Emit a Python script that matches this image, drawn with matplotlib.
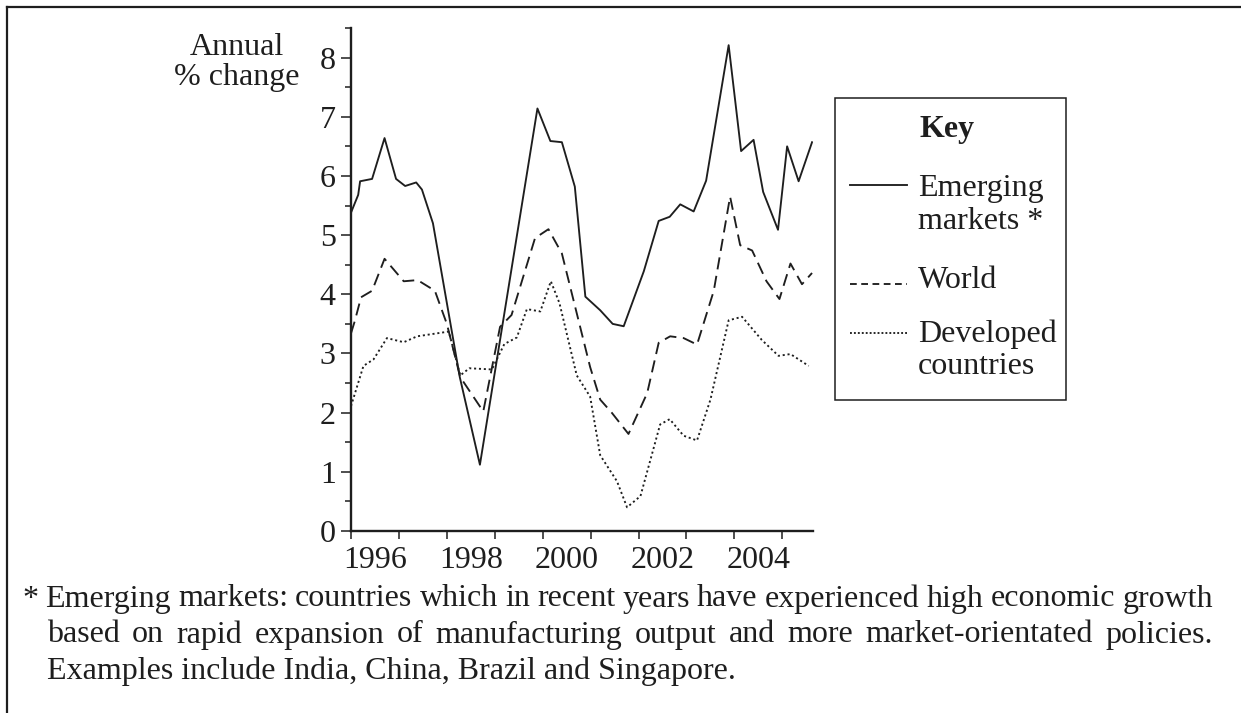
import matplotlib
matplotlib.use("Agg")
import matplotlib.pyplot as plt
from matplotlib.lines import Line2D
from matplotlib.patches import Rectangle

plt.rcParams['font.family'] = ['Liberation Serif', 'DejaVu Serif']

# data (year, annual % change)
em_x = [1996.00, 1996.15, 1996.19, 1996.44, 1996.70, 1996.94, 1997.13, 1997.36, 1997.48,
        1997.71, 1998.27, 1998.69, 1999.89, 2000.16, 2000.40, 2000.67, 2000.89, 2001.20,
        2001.46, 2001.69, 2002.11, 2002.42, 2002.65, 2002.87, 2003.15, 2003.41, 2003.88,
        2004.14, 2004.40, 2004.60, 2004.91, 2005.10, 2005.34, 2005.62]
em_y = [5.38, 5.68, 5.91, 5.95, 6.64, 5.95, 5.83, 5.89, 5.77,
        5.20, 2.60, 1.12, 7.14, 6.59, 6.57, 5.82, 3.96, 3.73,
        3.50, 3.46, 4.39, 5.24, 5.31, 5.52, 5.40, 5.92, 8.21,
        6.42, 6.61, 5.73, 5.09, 6.50, 5.91, 6.57]

wo_x = [1996.00, 1996.08, 1996.21, 1996.44, 1996.70, 1997.10, 1997.39, 1997.75, 1998.00,
        1998.28, 1998.76, 1999.11, 1999.35, 1999.84, 2000.12, 2000.40, 2000.99, 2001.20,
        2001.44, 2001.79, 2002.18, 2002.42, 2002.66, 2002.94, 2003.22, 2003.57, 2003.91,
        2004.12, 2004.37, 2004.67, 2004.94, 2005.17, 2005.41, 2005.62]
wo_y = [3.34, 3.55, 3.95, 4.06, 4.60, 4.22, 4.24, 4.06, 3.50,
        2.60, 2.02, 3.45, 3.65, 4.95, 5.10, 4.69, 2.77, 2.22,
        2.00, 1.64, 2.33, 3.18, 3.29, 3.26, 3.15, 4.06, 5.65,
        4.83, 4.74, 4.22, 3.92, 4.52, 4.17, 4.36]

dv_x = [1996.00, 1996.26, 1996.47, 1996.75, 1997.10, 1997.38, 1998.04, 1998.28, 1998.47,
        1998.94, 1999.20, 1999.46, 1999.67, 1999.95, 2000.17, 2000.35, 2000.71, 2000.99,
        2001.20, 2001.55, 2001.76, 2002.04, 2002.45, 2002.65, 2002.94, 2003.22, 2003.50,
        2003.88, 2004.16, 2004.57, 2004.92, 2005.17, 2005.55]
dv_y = [2.11, 2.79, 2.90, 3.26, 3.19, 3.29, 3.37, 2.63, 2.75,
        2.73, 3.16, 3.27, 3.75, 3.71, 4.22, 3.85, 2.63, 2.27,
        1.28, 0.84, 0.40, 0.59, 1.80, 1.89, 1.61, 1.53, 2.22,
        3.56, 3.62, 3.23, 2.96, 2.99, 2.79]

years = list(range(1996, 2006))
label_years = [1996, 1998, 2000, 2002, 2004]
y_ticks = [0, 1, 2, 3, 4, 5, 6, 7, 8]

footnote = [
    "* Emerging markets: countries which in recent years have experienced high economic growth",
    "based on rapid expansion of manufacturing output and more market-orientated policies.",
    "Examples include India, China, Brazil and Singapore.",
]

W, H = 1241, 713
fig = plt.figure(figsize=(W / 100, H / 100), dpi=100)
FS = 23
INK = '#1e1e1e'

def fx(px):
    return px / W

def fy(py):
    return 1 - py / H

ax = fig.add_axes([fx(351), fy(531), fx(813) - fx(351), fy(28) - fy(531)])
lw = 1.35
ax.plot(em_x, em_y, color=INK, lw=lw, ls='-')
ax.plot(wo_x, wo_y, color=INK, lw=lw, ls=(0, (6.5, 3.5)))
ax.plot(dv_x, dv_y, color=INK, lw=lw, ls=(0, (1.1, 1.5)))

ax.set_xlim(1996, 2005.64)
ax.set_ylim(0, 8.3)
for s in ['top', 'right']:
    ax.spines[s].set_visible(False)
for s in ['left', 'bottom']:
    ax.spines[s].set_linewidth(1.7)
    ax.spines[s].set_color(INK)

ax.set_yticks(y_ticks)
ax.set_yticks([v + 0.5 for v in y_ticks[:-1]] + [8.5], minor=True)
ax.set_xticks(years)
ax.set_xticklabels([])
ax.set_xticks([y + 0.5 for y in label_years], minor=True)
ax.set_xticklabels([str(y) for y in label_years], minor=True)
ax.tick_params(axis='y', which='major', direction='out', length=7, width=1.1,
               labelsize=FS, pad=4, colors=INK)
ax.tick_params(axis='y', which='minor', direction='out', length=4, width=1.1, colors=INK)
ax.tick_params(axis='x', which='major', direction='out', length=6, width=1.1, colors=INK)
ax.tick_params(axis='x', which='minor', length=0, labelsize=FS, pad=11, colors=INK)

fig.text(fx(237), fy(33), "Annual\n% change", ha='center', va='top', fontsize=FS,
         linespacing=1.05, color=INK)

# key box
fig.patches.append(Rectangle((fx(835), fy(400)), fx(1066) - fx(835), fy(98) - fy(400),
                             transform=fig.transFigure, fill=False, lw=1.1, ec=INK))
fig.text(fx(947), fy(129), "Key", ha='center', va='center', fontsize=FS,
         fontweight='bold', color=INK)
key_items = [
    ('-', 185, "Emerging\nmarkets *", 205),
    ((0, (3.6, 2.4)), 284, "World", 280),
    ((0, (1, 1.1)), 333, "Developed\ncountries", 350),
]
for ls, ly, txt, ty in key_items:
    fig.lines.append(Line2D([fx(850), fx(907)], [fy(ly), fy(ly)], transform=fig.transFigure,
                            color=INK, lw=lw, ls=ls))
    fig.text(fx(918), fy(ty), txt, ha='left', va='center', fontsize=FS,
             linespacing=1.15, color=INK)

# outer frame lines (top and left)
fig.lines.append(Line2D([fx(7), 1], [fy(7), fy(7)], transform=fig.transFigure,
                        color=INK, lw=1.6))
fig.lines.append(Line2D([fx(7), fx(7)], [fy(7), 0], transform=fig.transFigure,
                        color=INK, lw=1.6))

# footnote, first two lines justified
renderer = fig.canvas.get_renderer()
FN = 23

def justify(line, x0, x1, y):
    words = line.split(' ')
    arts = [fig.text(0, fy(y), w, ha='left', va='center', fontsize=FN, color=INK)
            for w in words]
    widths = [a.get_window_extent(renderer).width for a in arts]
    gap = (x1 - x0 - sum(widths)) / (len(words) - 1)
    x = x0
    for a, w in zip(arts, widths):
        a.set_x(fx(x))
        x += w + gap

justify(footnote[0], 22, 1213, 599)
justify(footnote[1], 47, 1213, 635)
fig.text(fx(47), fy(671), footnote[2], ha='left', va='center', fontsize=FN, color=INK)

fig.savefig("out.png", dpi=100)
